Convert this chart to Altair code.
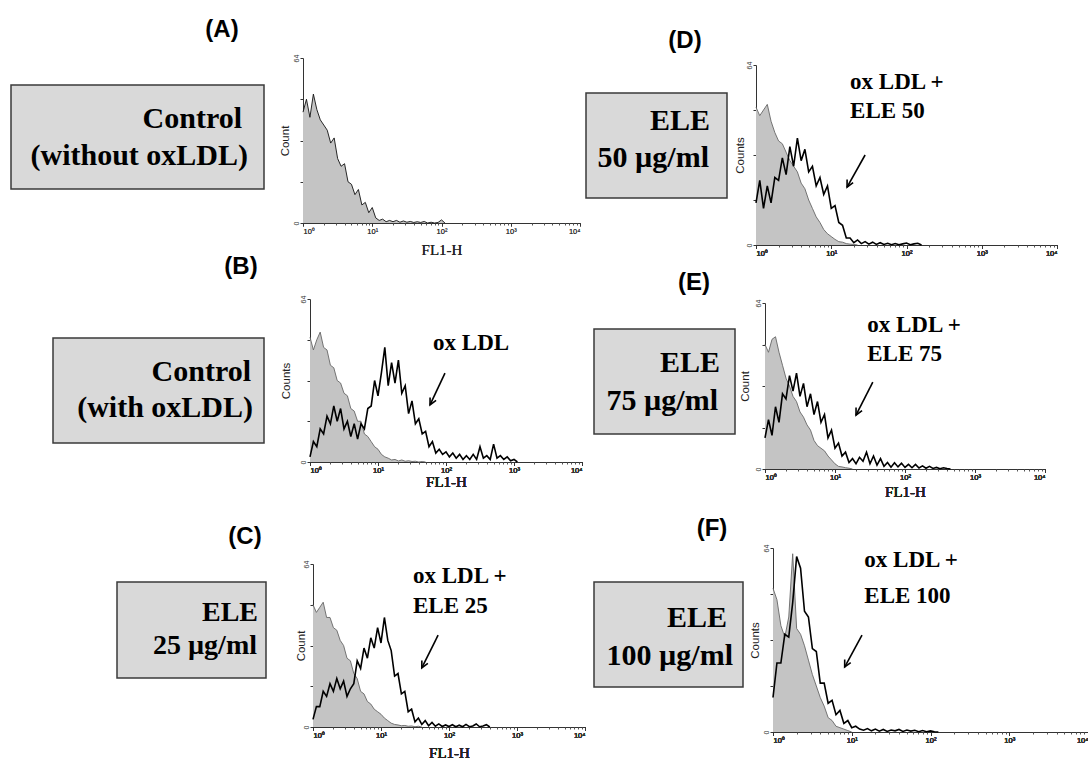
import altair as alt
import numpy as np
import pandas as pd

W, H = 1088, 761

# ---------------- data (counts per log10 channel, channel spacing 0.05 decade) ----------------
STEP = 0.05
CTRL_A = [43, 48, 41, 50, 44, 40, 38, 36, 31, 33, 25, 22, 23, 16, 15, 11, 13, 7, 8, 4, 6, 2, 1, 1.5,
          0.5, 1, 0.5, 1, 0.3, 0.8, 0.3, 0.6, 0.2, 0.5, 0.2, 0.6, 0, 0.3, 0, 0.2, 1.2, 0]
CTRL_B = [49, 44, 48, 51, 45, 44, 38, 37, 32, 31, 27, 26, 21, 20, 16, 16, 11, 10, 8, 6, 5, 3, 2, 1.5,
          0.8, 1, 0.4, 0.8, 0.3, 0.5, 0.2, 0.3, 0, 0.2, 0]
OX_B = [2, 8, 6, 13, 11, 18, 15, 22, 16, 21, 13, 16, 10, 15, 9, 15, 13, 21, 22, 32, 26, 35, 45, 30,
        39, 31, 40, 27, 30, 19, 24, 15, 17, 11, 12, 6, 8, 3.5, 5, 3, 4, 2, 3.5, 1.5, 3, 1, 2.5, 1,
        3, 1, 6, 1.5, 2.5, 1, 7, 1.5, 2.5, 1, 2, 0.5, 1, 0]
CTRL_C = [48, 45, 47, 49, 43, 43, 39, 38, 34, 32, 27, 26, 21, 19, 14, 13, 10, 9, 7, 6, 5, 3.5, 2.5,
          1.5, 1, 0.8, 0.5, 0.6, 0.3, 0.4, 0.1, 0.3, 0]
OX_C = [3, 8, 8, 14, 12, 17, 14, 19, 15, 18, 12, 15, 17, 26, 23, 31, 27, 35, 31, 39, 33, 43, 34, 30,
        20, 21, 13, 14, 6, 7, 2, 3.5, 1, 2.5, 0.5, 1.8, 0.3, 1.2, 0.2, 0.8, 0.2, 0.9, 0.1, 0.7, 0.1,
        1, 0.1, 0.4, 1.2, 0.1, 0.4, 0.9, 0]
CTRL_D = [49, 46, 48, 50, 44, 40, 37, 36, 33, 30, 28, 26, 22, 20, 16, 13, 10, 8, 5.5, 4, 3, 2, 1.2,
          1, 0.5, 0.3, 0.2, 0]
OX_D = [15, 23, 13, 21, 15, 24, 23, 31, 25, 35, 28, 38, 30, 34, 26, 28, 21, 24, 18, 21, 13, 14, 8, 7,
        2.5, 2.5, 0.8, 1.8, 0.5, 1.2, 0.3, 1, 0.2, 0.8, 0.2, 0.6, 0.1, 0.5, 0.1, 0.4, 0.7, 0.1, 0.4,
        0.6, 0]
CTRL_E = [48, 45, 50, 51, 45, 40, 35, 32, 28, 26, 22, 20, 17, 15, 11, 9, 8, 7, 5, 3.5, 2, 1, 0.8,
          0.5, 0.3, 0]
OX_E = [12, 19, 13, 24, 18, 29, 27, 36, 30, 37, 28, 33, 24, 29, 21, 26, 18, 21, 12, 15, 8, 10, 5,
        6.5, 2.5, 4, 2, 4.5, 3, 6.5, 2, 5, 1.5, 4, 1, 2.5, 0.7, 2.4, 0.8, 2.2, 0.6, 1.8, 0.5, 1.8,
        0.4, 1.2, 0.3, 1, 0.2, 0.6, 0.1, 0.5, 0.2, 0]
CTRL_F = [50, 46, 37, 33, 40, 62, 36, 34, 30, 25, 20, 16, 12, 9, 5, 4, 2, 1.5, 1, 0.5, 0]
OX_F = [12, 24, 24, 34, 33, 45, 61, 57, 42, 40, 29, 28, 17, 17, 10, 11, 6, 7.5, 3, 4, 1.5, 2, 1, 0.6,
        1.2, 0.4, 1, 0.3, 0.9, 0.2, 0.7, 0.4, 0.9, 0.2, 0.7, 0.3, 0.6, 0.1, 0.5, 0.1, 0.4, 0.1, 0]

X_TICKS = [0, 1, 2, 3, 4]
X_MINOR = [round(float(np.log10(k)) + d, 4) for d in range(4) for k in range(2, 10)]
Y_TICKS = [0, 16, 32, 48, 64]

# annotation texts: (label, log10 x, count)
ANN_B = [("ox LDL", 1.81, 44)]
ANN_C = [("ox LDL +", 1.47, 56.5), ("ELE 25", 1.47, 44.8)]
ANN_D = [("ox LDL +", 1.25, 55.5), ("ELE 50", 1.25, 45.2)]
ANN_E = [("ox LDL +", 1.46, 52.8), ("ELE 75", 1.46, 41.6)]
ANN_F = [("ox LDL +", 1.16, 57.4), ("ELE 100", 1.16, 44.9)]
# arrows: (x start, y start, x end, y end) in data units
ARR_B = (1.985, 34.9, 1.765, 22.4)
ARR_C = (1.84, 36.1, 1.60, 23.2)
ARR_D = (1.45, 32.0, 1.21, 20.6)
ARR_E = (1.54, 33.5, 1.30, 20.8)
ARR_F = (1.13, 33.7, 0.91, 22.6)

# panel letters and label boxes (layout)
LETTERS = [("(A)", 222, 30), ("(B)", 241, 267), ("(C)", 245, 537),
           ("(D)", 685, 41), ("(E)", 694, 283), ("(F)", 712, 529)]
BOXES = [(11, 85, 253, 104), (53, 338, 211, 105), (117, 582, 149, 96),
         (586, 93, 141, 105), (594, 329, 141, 105), (594, 582, 149, 105)]
BOX_FONT = [30, 30, 28, 30, 30, 30]
BOX_LINES = [
    [("Control", 22, 43), ("(without oxLDL)", 16, 80)],
    [("Control", 13, 43), ("(with oxLDL)", 11, 79)],
    [("ELE", 8, 39), ("25 µg/ml", 9, 72)],
    [("ELE", 17, 37), ("50 µg/ml", 18, 74)],
    [("ELE", 15, 43), ("75 µg/ml", 17, 81)],
    [("ELE", 16, 45), ("100 µg/ml", 10, 83)],
]

SERIF = "Liberation Serif"
SANS = "Liberation Sans"
EMPTY = alt.Data(values=[{}])


def series_df(vals):
    return pd.DataFrame({"logx": np.round(np.arange(len(vals)) * STEP, 3), "count": vals})


def hist_panel(ctrl, ox, geom, ytitle, ytx, xtitle, xty, ctrl_stroke, ann=None, arr=None):
    px, py, pw, ph = geom
    xscale = alt.Scale(domain=[0, 4], range=[px, px + pw], nice=False, zero=False)
    xoff = (py + ph) - H
    xa = dict(orient="bottom", offset=xoff, values=X_TICKS,
              labelExpr="'10' + ['⁰','¹','²','³','⁴'][datum.value]",
              labelFont=SANS, labelFontSize=7.5, labelColor="#333", labelPadding=1,
              tickSize=3, tickColor="#333", domainColor="#333", grid=False)
    if xtitle:
        xa.update(title=xtitle, titleFont=SERIF, titleFontSize=15, titleFontWeight="normal",
                  titleColor="#222", titleBaseline="middle", titleY=xty)
    else:
        xa.update(title=None)
    x = alt.X("logx:Q", scale=xscale, axis=alt.Axis(**xa))
    y = alt.Y("count:Q", scale=alt.Scale(domain=[0, 64], range=[py + ph, py], nice=False),
              axis=alt.Axis(orient="left", offset=-px, values=Y_TICKS,
                            labelExpr="datum.value == 0 || datum.value == 64 ? datum.label : ''",
                            labelAngle=-90, labelFont=SANS, labelFontSize=7, labelColor="#333",
                            labelPadding=1, tickSize=3, tickColor="#333", domainColor="#333",
                            grid=False, title=ytitle, titleFont=SANS, titleFontSize=11.5,
                            titleFontWeight="normal", titleColor="#222", titleX=ytx,
                            titleBaseline="middle"))
    cdf = series_df(ctrl)
    layers = [
        alt.Chart(cdf).mark_area(color="#c4c4c4").encode(x=x, y=y),
        alt.Chart(cdf).mark_line(color=ctrl_stroke, strokeWidth=0.9).encode(x=x, y=y),
    ]
    if ox:
        layers.append(alt.Chart(series_df(ox)).mark_line(color="black", strokeWidth=1.6)
                      .encode(x=x, y=y))
    if ann:
        adf = pd.DataFrame(ann, columns=["label", "logx", "count"])
        layers.append(alt.Chart(adf).mark_text(font=SERIF, fontWeight="bold", fontSize=23,
                                               align="left", baseline="alphabetic",
                                               color="black")
                      .encode(x=x, y=y, text="label:N"))
    if arr:
        rdf = pd.DataFrame({"logx": [arr[0]], "count": [arr[1]],
                            "logx2": [arr[2]], "count2": [arr[3]]})
        layers.append(alt.Chart(rdf).mark_rule(color="black", strokeWidth=1.6)
                      .encode(x=x, y=y, x2="logx2:Q", y2="count2:Q"))
        hdf = pd.DataFrame({"logx": [arr[2]], "count": [arr[3]]})
        layers.append(alt.Chart(hdf).mark_point(shape="M-0.55,1.1L0,0L0.55,1.1", filled=False,
                                                stroke="black", strokeWidth=1.6, size=150,
                                                angle=207, opacity=1)
                      .encode(x=x, y=y))
    # minor ticks of the log axis
    mdf = pd.DataFrame({"logx": X_MINOR, "count": [0] * len(X_MINOR)})
    layers.append(alt.Chart(mdf).mark_point(opacity=0).encode(
        x=alt.X("logx:Q", scale=xscale,
                axis=alt.Axis(orient="bottom", offset=xoff, values=X_MINOR, labels=False,
                              domain=False, tickSize=2, tickColor="#555", grid=False,
                              title=None)),
        y=y))
    return alt.layer(*layers).resolve_axis(x="independent")


decor = []
for (bx, by, bw, bh), lines, fs in zip(BOXES, BOX_LINES, BOX_FONT):
    decor.append(alt.Chart(EMPTY).mark_rect(fill="#d9d9d9", stroke="#3a3a3a", strokeWidth=1.5)
                 .encode(x=alt.value(bx), x2=alt.value(bx + bw),
                         y=alt.value(by), y2=alt.value(by + bh)))
    for text, rx, base in lines:
        decor.append(alt.Chart(EMPTY).mark_text(text=text, font=SERIF, fontWeight="bold",
                                                fontSize=fs, align="right",
                                                baseline="alphabetic", color="black")
                     .encode(x=alt.value(bx + bw - rx), y=alt.value(by + base)))
for label, cx, cy in LETTERS:
    decor.append(alt.Chart(EMPTY).mark_text(text=label, font=SANS, fontWeight="bold",
                                            fontSize=24, align="center", baseline="middle",
                                            color="black")
                 .encode(x=alt.value(cx), y=alt.value(cy)))

pA = hist_panel(CTRL_A, None, (303, 58, 277, 165), "Count", -18, "FL1-H", 26, "#111")
pB = hist_panel(CTRL_B, OX_B, (310, 299, 272, 163), "Counts", -24, "FL1-H", 19, "#666",
                ANN_B, ARR_B)
pC = hist_panel(CTRL_C, OX_C, (313, 564, 272, 163), "Count", -12, "FL1-H", 25, "#666",
                ANN_C, ARR_C)
pD = hist_panel(CTRL_D, OX_D, (756, 65, 301, 180), "Counts", -16, None, 0, "#666",
                ANN_D, ARR_D)
pE = hist_panel(CTRL_E, OX_E, (765, 303, 280, 166), "Count", -20, "FL1-H", 22, "#666",
                ANN_E, ARR_E)
pF = hist_panel(CTRL_F, OX_F, (773, 548, 315, 184), "Counts", -18, None, 0, "#666",
                ANN_F, ARR_F)

chart = alt.layer(*decor, pA, pB, pC, pD, pE, pF).resolve_scale(
    x="independent", y="independent"
).properties(
    width=W, height=H, padding=0, background="white",
    autosize=alt.AutoSizeParams(type="none")
).configure_view(stroke="transparent")

chart.save("out.html", embed_options={"renderer": "svg", "actions": False})
